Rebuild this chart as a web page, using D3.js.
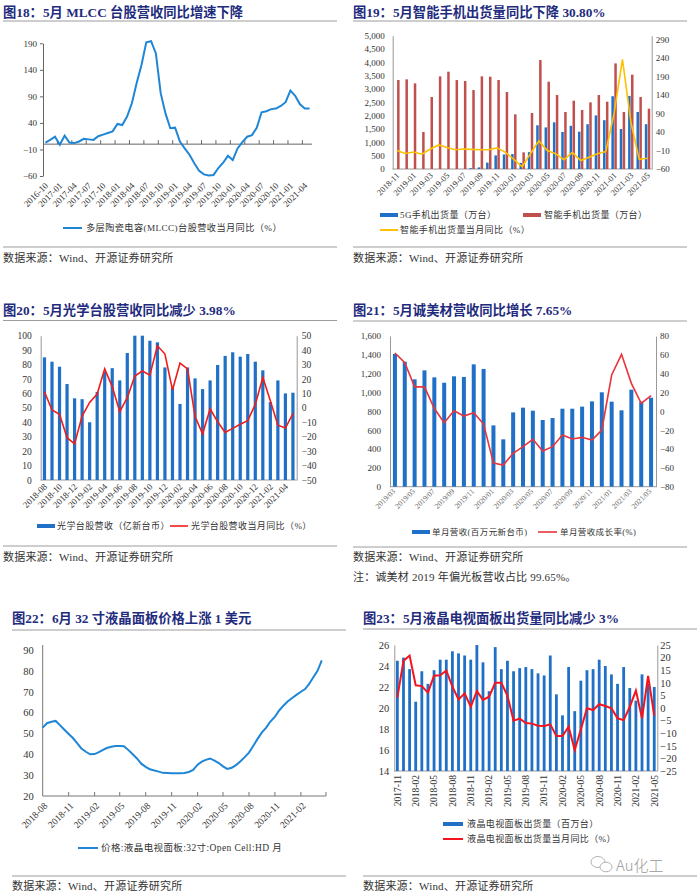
<!DOCTYPE html>
<html>
<head>
<meta charset="utf-8">
<script src="https://cdn.jsdelivr.net/npm/d3@7"></script>
<style>
  body { margin: 0; background: #fff; }
</style>
</head>
<body>
<svg id="page" width="700" height="896"></svg>
<script>
// ---- data ----
// fig 18: MLCC yoy, monthly 2016-10 .. 2021-05
const mlccYoY = [3, 8, 14, -1, 16, 3, 2, 5, 10, 9, 8, 15, 18, 21, 24, 38, 36, 52, 77, 115,
  149, 192, 194, 171, 96, 58, 30, 31, 5, -8, -20, -36, -50, -57, -59, -58, -45, -35, -22, -30,
  -8, 4, 14, 17, 31, 60, 62, 66, 67, 72, 79, 101, 91, 75, 67, 67];
const mlccTicks = [-60, -10, 40, 90, 140, 190];

// fig 19: smartphone shipments, 2018-11 .. 2021-05
const phone5G = [0, 0, 0, 0, 0, 0, 0, 0, 0, 30, 60, 240, 510, 545, 560, 230, 630, 1640, 1560, 1750,
  1390, 1620, 1400, 1680, 2010, 1830, 2730, 1500, 2740, 2140, 1680];
const phoneSmart = [3337, 3362, 3212, 1387, 2700, 3475, 3650, 3337, 3300, 2962, 3475, 3462, 3337, 2887,
  2050, 625, 2100, 4087, 3275, 2775, 2137, 2562, 2212, 2500, 2775, 2525, 3962, 2137, 3537, 2700, 2262];
const phoneYoY = [-10, -18, -14, -20, -6, 5, -2, -8, -6, -7, -8, -8, -3, -15, -34, -54, -18, 16, -10, -19,
  -35, -15, -37, -28, -19, -13, 90, 236, 68, -34, -31];
const phoneRightTicks = [-60, -10, 40, 90, 140, 190, 240, 290];

// fig 20: optics revenue, 2018-08 .. 2021-05
const optRev = [85, 82, 78.5, 66.5, 56.6, 56, 40, 61, 75, 77.5, 69, 88, 100, 100, 96.5, 95.4, 78, 64,
  52.7, 78, 70.4, 63, 69, 79.7, 86, 88.5, 85.5, 87.3, 82, 76, 54, 69, 60, 60.5];
const optYoY = [11.2, -1.5, -4.5, -20.7, -25, -5.7, 3.8, 9.6, 27, 14.7, -2.7, 7, 22, 25.5, 22.7, 43, 37.3,
  12.4, 31, 27, -6, -18, -0.8, -9.6, -17, -14.2, -11.4, -8.9, 2.4, 21, 5, -12, -14, -3.98];

// fig 21: CMC Magnetics revenue, 2019/03 .. 2021/05
const cmcRev = [1409, 1327, 1140, 1235, 1161, 1104, 1172, 1165, 1299, 1250, 651, 503, 789, 839, 807,
  708, 729, 828, 828, 850, 906, 1002, 903, 811, 1030, 903, 945];
const cmcYoY = [62, 51.7, 26, 26, 3, -12, 0.7, -5, -1.4, -13.5, -55, -57, -44.6, -37.5, -29.7, -42,
  -37.5, -25, -29.4, -27.6, -30.4, -19.8, 38.6, 60.5, 29.7, 8.5, 16.6];

// fig 22: 32" open cell price, half-monthly from 2018-08
const panelPrice = [52.8, 54.9, 55.6, 56.0, 54.0, 51.9, 49.7, 47.8, 45.3, 42.8, 41.2, 40.0, 40.1, 41.0,
  42.0, 43.0, 43.6, 44.0, 44.0, 43.9, 42.0, 40.0, 38.0, 35.5, 34.0, 32.8, 32.2, 31.7, 31.1, 31.0, 30.9,
  30.9, 30.9, 31.0, 31.5, 32.5, 35.0, 36.5, 37.3, 38.0, 37.0, 35.8, 34.2, 33.0, 33.5, 34.8, 36.5, 38.5,
  40.8, 44.0, 47.5, 50.5, 52.8, 55.7, 58.0, 61.0, 63.3, 65.3, 67.0, 68.5, 70.0, 71.3, 73.5, 76.7, 80.0, 85.0];

// fig 23: LCD TV panel shipments, 2017-11 .. 2021-05
const tvShip = [24.5, 24.8, 23.7, 20.6, 23.5, 22.3, 23.6, 24.6, 24.6, 25.4, 25.2, 25.0, 24.6, 26.0,
  24.35, 21.6, 25.8, 23.7, 24.5, 23.5, 23.8, 23.9, 23.7, 23.3, 23.1, 25.0, 21.3, 19.3, 23.9, 19.7, 22.6,
  23.6, 23.7, 24.6, 24.0, 23.2, 22.3, 23.9, 21.9, 20.7, 23.2, 22.3, 22.0];
const tvYoY = [4.1, 18.7, 20.8, 9, 8.7, 6.1, 12.8, 13, 14.8, 8.5, 3.4, 5.8, 0.5, 6.7, 3.2, 4.5, 10, 10,
  4.8, -5, -4.2, -6, -6.2, -7, -7.1, -6.5, -11.1, -11.1, -7.4, -16.7, -8.5, -0.1, -0.8, 1.5, 0.8, -0.1,
  -4.1, -4.8, 0.5, 6.9, -4.1, 12.7, -3];

function months(start, n, sep) {
  const [y, m] = start.split("-").map(Number);
  return d3.range(n).map((i) => {
    const t = y * 12 + (m - 1) + i;
    return Math.floor(t / 12) + sep + String((t % 12) + 1).padStart(2, "0");
  });
}
const mlccMonths = months("2016-10", mlccYoY.length, "-");
const phoneMonths = months("2018-11", phoneSmart.length, "-");
const optMonths = months("2018-08", optRev.length, "-");
const cmcMonths = months("2019-03", cmcRev.length, "/");
const tvMonths = months("2017-11", tvShip.length, "-");
const panelDates = panelPrice.map((_, k) => new Date(2018, 7 + Math.floor(k / 2), k % 2 ? 16 : 1));
const panelTicks = d3.range(12).map((i) => new Date(2018, 7 + i * 3, 1));

const FONT = '"Liberation Serif","Noto Sans CJK SC",serif';
const BLUE = "#1f70c6";
const svg = d3.select("#page").attr("font-family", FONT);

function frame(x0, titleY, title, ruleY, divY, srcY) {
  svg.append("text").attr("x", x0).attr("y", titleY)
    .attr("font-size", 13.3).attr("font-weight", "bold").attr("fill", "#1f2c7e")
    .text(title);
  svg.append("line").attr("x1", x0).attr("x2", x0 + 334).attr("y1", ruleY).attr("y2", ruleY)
    .attr("stroke", "#9c9c9c");
  svg.append("line").attr("x1", x0).attr("x2", x0 + 334).attr("y1", divY).attr("y2", divY)
    .attr("stroke", "#9c9c9c");
  svg.append("text").attr("x", x0).attr("y", srcY).attr("font-size", 11).attr("fill", "#333")
    .attr("letter-spacing", 0.2).text("数据来源：Wind、开源证券研究所");
}

function styleAxis(g, size, color) {
  g.attr("font-family", FONT).attr("font-size", size);
  g.select(".domain").attr("stroke", color);
  g.selectAll(".tick line").attr("stroke", color);
  g.selectAll(".tick text").attr("fill", "#333");
}

function xLabels(g, labels, pos, y, angle, size, color) {
  g.selectAll(null).data(labels).join("text")
    .attr("transform", (d) => `translate(${pos(d)},${y}) rotate(${angle})`)
    .attr("text-anchor", "end").attr("dy", "0.35em")
    .attr("font-size", size).attr("fill", color || "#333").text((d) => d);
}

function legendText(x, y, t, size) {
  svg.append("text").attr("x", x).attr("y", y).attr("dy", "0.35em")
    .attr("font-size", size || 9).attr("fill", "#333").attr("letter-spacing", 0.4).text(t);
}

// ================= fig 18 =================
frame(3, 17, "图18：5月 MLCC 台股营收同比增速下降", 21, 247, 262);
{
  const g = svg.append("g");
  const x = d3.scaleBand().domain(mlccMonths).range([43, 312]);
  const y = d3.scaleLinear().domain([-60, 190]).range([176, 43.3]);
  const cx = (d) => x(d) + x.bandwidth() / 2;
  styleAxis(g.append("g").attr("transform", "translate(43,0)")
    .call(d3.axisLeft(y).tickValues(mlccTicks).tickSize(3).tickSizeOuter(0).tickPadding(3)), 9, "#666");
  g.append("line").attr("x1", x.range()[0]).attr("x2", x.range()[1])
    .attr("y1", y(0)).attr("y2", y(0)).attr("stroke", "#666");
  g.selectAll(".xt").data(mlccMonths.filter((d, i) => i % 3 === 0 && i > 0)).join("line")
    .attr("x1", (d) => x(d)).attr("x2", (d) => x(d))
    .attr("y1", y(0)).attr("y2", y(0) - 4).attr("stroke", "#666");
  xLabels(g, mlccMonths.filter((d, i) => i % 3 === 0), (d) => cx(d) + 1, 184, -45, 9);
  g.append("path").datum(mlccYoY)
    .attr("fill", "none").attr("stroke", "#1f86d6").attr("stroke-width", 2)
    .attr("d", d3.line().x((d, i) => cx(mlccMonths[i])).y((d) => y(d)));
  svg.append("line").attr("x1", 63).attr("x2", 82).attr("y1", 228).attr("y2", 228)
    .attr("stroke", "#1f86d6").attr("stroke-width", 2);
  legendText(86, 228, "多层陶瓷电容(MLCC)台股营收当月同比（%）", 9.2);
}

// ================= fig 19 =================
frame(353, 17, "图19：5月智能手机出货量同比下降 30.80%", 21, 247, 262);
{
  const g = svg.append("g");
  const x = d3.scaleBand().domain(phoneMonths).range([392.7, 651.7]);
  const yL = d3.scaleLinear().domain([0, 5000]).range([169, 35.7]);
  const yR = d3.scaleLinear().domain([-60, 300]).range([169, 35.7]);
  const cx = (d) => x(d) + x.bandwidth() / 2;
  styleAxis(g.append("g").attr("transform", "translate(392.7,0)")
    .call(d3.axisLeft(yL).ticks(10).tickFormat(d3.format(",")).tickSize(0).tickPadding(8)), 9, "#999");
  styleAxis(g.append("g").attr("transform", "translate(651.7,0)")
    .call(d3.axisRight(yR).tickValues(phoneRightTicks).tickSize(0).tickPadding(4)), 9, "#999");
  g.append("line").attr("x1", 392.7).attr("x2", 651.7).attr("y1", 169).attr("y2", 169).attr("stroke", "#999");
  g.selectAll(".b5").data(phone5G).join("rect")
    .attr("x", (d, i) => cx(phoneMonths[i]) - 2.7).attr("width", 2.5)
    .attr("y", (d) => yL(d)).attr("height", (d) => 169 - yL(d)).attr("fill", BLUE);
  g.selectAll(".bs").data(phoneSmart).join("rect")
    .attr("x", (d, i) => cx(phoneMonths[i]) + 0.2).attr("width", 2.5)
    .attr("y", (d) => yL(d)).attr("height", (d) => 169 - yL(d)).attr("fill", "#c0504d");
  g.append("path").datum(phoneYoY)
    .attr("fill", "none").attr("stroke", "#ffc000").attr("stroke-width", 1.6)
    .attr("d", d3.line().x((d, i) => cx(phoneMonths[i])).y((d) => yR(d)));
  xLabels(g, phoneMonths.filter((d, i) => i % 2 === 0), (d) => cx(d) + 1, 174, -45, 8.5);
  svg.append("rect").attr("x", 380).attr("y", 213).attr("width", 18).attr("height", 4).attr("fill", BLUE);
  legendText(400, 215, "5G手机出货量（万台）");
  svg.append("rect").attr("x", 523).attr("y", 213).attr("width", 18).attr("height", 4).attr("fill", "#c0504d");
  legendText(544, 215, "智能手机出货量（万台）");
  svg.append("line").attr("x1", 380).attr("x2", 398).attr("y1", 230).attr("y2", 230)
    .attr("stroke", "#ffc000").attr("stroke-width", 2);
  legendText(400, 230, "智能手机出货量当月同比（%）");
}

// ================= fig 20 =================
frame(3, 315, "图20：5月光学台股营收同比减少 3.98%", 320.5, 546, 561);
{
  const g = svg.append("g");
  const x = d3.scaleBand().domain(optMonths).range([40.7, 296.7]);
  const yL = d3.scaleLinear().domain([0, 100]).range([480, 335.7]);
  const yR = d3.scaleLinear().domain([-50, 50]).range([480, 335.7]);
  const cx = (d) => x(d) + x.bandwidth() / 2;
  styleAxis(g.append("g").attr("transform", "translate(40.7,0)")
    .call(d3.axisLeft(yL).ticks(10).tickSize(0).tickPadding(9)), 9.5, "#999");
  styleAxis(g.append("g").attr("transform", "translate(296.7,0)")
    .call(d3.axisRight(yR).ticks(10).tickSize(0).tickPadding(5)), 9.5, "#999");
  g.append("line").attr("x1", 40.7).attr("x2", 296.7).attr("y1", 480).attr("y2", 480).attr("stroke", "#999");
  g.selectAll(".bo").data(optRev).join("rect")
    .attr("x", (d, i) => cx(optMonths[i]) - 1.6).attr("width", 3.2)
    .attr("y", (d) => yL(d)).attr("height", (d) => 480 - yL(d)).attr("fill", BLUE);
  g.append("path").datum(optYoY)
    .attr("fill", "none").attr("stroke", "#f01c1c").attr("stroke-width", 1.6)
    .attr("d", d3.line().x((d, i) => cx(optMonths[i])).y((d) => yR(d)));
  xLabels(g, optMonths.filter((d, i) => i % 2 === 0), (d) => cx(d) + 1, 485, -45, 9);
  svg.append("rect").attr("x", 37).attr("y", 524).attr("width", 18).attr("height", 4).attr("fill", BLUE);
  legendText(57, 526, "光学台股营收（亿新台币）");
  svg.append("line").attr("x1", 170).attr("x2", 188).attr("y1", 526).attr("y2", 526)
    .attr("stroke", "#f01c1c").attr("stroke-width", 1.6);
  legendText(191, 526, "光学台股营收当月同比（%）");
}

// ================= fig 21 =================
frame(353, 315, "图21：5月诚美材营收同比增长 7.65%", 321, 547, 561);
svg.append("text").attr("x", 353).attr("y", 581).attr("font-size", 11).attr("fill", "#333")
  .attr("letter-spacing", 0.2).text("注：诚美材 2019 年偏光板营收占比 99.65%。");
{
  const g = svg.append("g");
  const x = d3.scaleBand().domain(cmcMonths).range([390, 656]);
  const yL = d3.scaleLinear().domain([0, 1600]).range([486.7, 336]);
  const yR = d3.scaleLinear().domain([-80, 80]).range([486.7, 336]);
  const cx = (d) => x(d) + x.bandwidth() / 2;
  styleAxis(g.append("g").attr("transform", "translate(390,0)")
    .call(d3.axisLeft(yL).ticks(8).tickFormat(d3.format(",")).tickSize(0).tickPadding(9)), 9, "#999");
  styleAxis(g.append("g").attr("transform", "translate(656,0)")
    .call(d3.axisRight(yR).ticks(8).tickSize(0).tickPadding(4)), 9, "#999");
  g.append("line").attr("x1", 390).attr("x2", 656).attr("y1", 486.7).attr("y2", 486.7).attr("stroke", "#999");
  g.selectAll(".bc").data(cmcRev).join("rect")
    .attr("x", (d, i) => cx(cmcMonths[i]) - 2).attr("width", 4)
    .attr("y", (d) => yL(d)).attr("height", (d) => 486.7 - yL(d)).attr("fill", BLUE);
  g.append("path").datum(cmcYoY)
    .attr("fill", "none").attr("stroke", "#e8343a").attr("stroke-width", 1.6)
    .attr("d", d3.line().x((d, i) => cx(cmcMonths[i])).y((d) => yR(d)));
  xLabels(g, cmcMonths.filter((d, i) => i % 2 === 0), (d) => cx(d) - 1, 490, -45, 7.5, "#666");
  svg.append("rect").attr("x", 412).attr("y", 530).attr("width", 18).attr("height", 4).attr("fill", BLUE);
  legendText(432, 532, "单月营收(百万元新台币)", 8.5);
  svg.append("line").attr("x1", 538).attr("x2", 557).attr("y1", 532).attr("y2", 532)
    .attr("stroke", "#e8343a").attr("stroke-width", 1.6);
  legendText(560, 532, "单月营收成长率(%)", 8.5);
}

// ================= fig 22 =================
frame(12, 623, "图22：6月 32 寸液晶面板价格上涨 1 美元", 630, 876, 890);
{
  const g = svg.append("g");
  const x = d3.scaleTime().domain([panelTicks[0], panelTicks[11]]).range([42.7, 326]);
  const y = d3.scaleLinear().domain([20, 90]).range([796, 650]);
  styleAxis(g.append("g").attr("transform", "translate(42.7,0)")
    .call(d3.axisLeft(y).ticks(7).tickSize(0).tickPadding(9)), 10.5, "#777");
  g.select(".domain").attr("d", "M0,796V645");
  g.append("line").attr("x1", 42.7).attr("x2", 326).attr("y1", 796).attr("y2", 796).attr("stroke", "#777");
  g.selectAll(".xt").data(panelTicks.slice(1)).join("line")
    .attr("x1", (d) => x(d)).attr("x2", (d) => x(d))
    .attr("y1", 796).attr("y2", 792).attr("stroke", "#777");
  xLabels(g, panelTicks.slice(0, 11), (d) => x(d) + 3, 804, -45, 9.5);
  g.selectAll("text").filter(function (d) { return d instanceof Date; }).text(d3.timeFormat("%Y-%m"));
  g.append("path").datum(panelPrice)
    .attr("fill", "none").attr("stroke", "#1f86d6").attr("stroke-width", 2)
    .attr("d", d3.line().x((d, i) => x(panelDates[i])).y((d) => y(d)));
  svg.append("line").attr("x1", 78).attr("x2", 98).attr("y1", 848).attr("y2", 848)
    .attr("stroke", "#1f86d6").attr("stroke-width", 2);
  legendText(101, 848, "价格:液晶电视面板:32寸:Open Cell:HD 月", 9.5);
}

// ================= fig 23 =================
frame(363, 623, "图23：5月液晶电视面板出货量同比减少 3%", 629, 876, 890);
{
  const g = svg.append("g");
  const x = d3.scaleBand().domain(tvMonths).range([394.3, 657.3]);
  const yL = d3.scaleLinear().domain([14, 26]).range([771, 645]);
  const yR = d3.scaleLinear().domain([-25, 25]).range([771, 645]);
  const cx = (d) => x(d) + x.bandwidth() / 2;
  styleAxis(g.append("g").attr("transform", "translate(394.3,0)")
    .call(d3.axisLeft(yL).ticks(6).tickSize(0).tickPadding(5)), 10.5, "#999");
  styleAxis(g.append("g").attr("transform", "translate(657.3,0)")
    .call(d3.axisRight(yR).ticks(10).tickSize(0).tickPadding(3)), 10.5, "#999");
  g.append("line").attr("x1", 394.3).attr("x2", 657.3).attr("y1", 771).attr("y2", 771).attr("stroke", "#999");
  g.selectAll(".bt").data(tvShip).join("rect")
    .attr("x", (d, i) => cx(tvMonths[i]) - 1.4).attr("width", 2.8)
    .attr("y", (d) => yL(d)).attr("height", (d) => 771 - yL(d)).attr("fill", BLUE);
  g.append("path").datum(tvYoY)
    .attr("fill", "none").attr("stroke", "#f5141e").attr("stroke-width", 2)
    .attr("d", d3.line().x((d, i) => cx(tvMonths[i])).y((d) => yR(d)));
  xLabels(g, tvMonths.filter((d, i) => i % 3 === 0), (d) => cx(d), 775, -90, 9.5);
  svg.append("rect").attr("x", 443).attr("y", 822).attr("width", 20).attr("height", 4).attr("fill", BLUE);
  legendText(467, 824, "液晶电视面板出货量（百万台）");
  svg.append("line").attr("x1", 443).attr("x2", 463).attr("y1", 839).attr("y2", 839)
    .attr("stroke", "#f5141e").attr("stroke-width", 2);
  legendText(467, 839, "液晶电视面板出货量当月同比（%）");
  // watermark
  const wm = svg.append("g").attr("fill", "none").attr("stroke", "#aaa").attr("stroke-width", 0.9);
  wm.append("ellipse").attr("cx", 598).attr("cy", 862).attr("rx", 7).attr("ry", 5.5);
  wm.append("ellipse").attr("cx", 606).attr("cy", 867).attr("rx", 6).attr("ry", 4.8).attr("fill", "#fff");
  svg.append("text").attr("x", 616).attr("y", 871).attr("font-size", 15).attr("fill", "#9a9a9a")
    .attr("font-family", '"Noto Sans CJK SC",sans-serif').attr("font-weight", 300).text("Au化工");
}
</script>
</body>
</html>
